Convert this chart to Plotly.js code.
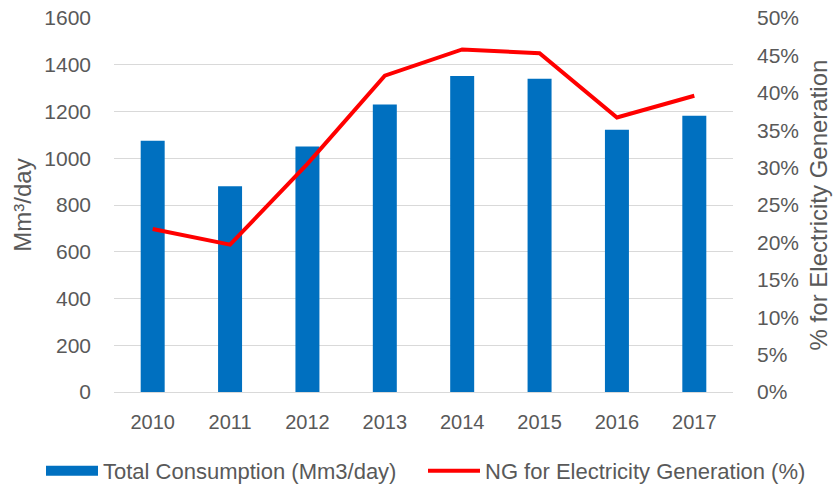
<!DOCTYPE html>
<html>
<head>
<meta charset="utf-8">
<script src="https://cdn.plot.ly/plotly-3.0.1.min.js"></script>
<style>html,body{margin:0;padding:0;background:#fff;}#chart{width:834px;height:486px;}</style>
</head>
<body>
<div id="chart"></div>
<script>
const years = ["2010", "2011", "2012", "2013", "2014", "2015", "2016", "2017"];
const totalConsumption = [1075, 880, 1050, 1230, 1352, 1340, 1122, 1182];
const ngElectricityPct = [0.218, 0.197, 0.305, 0.423, 0.458, 0.453, 0.367, 0.396];
const leftTicks = [0, 200, 400, 600, 800, 1000, 1200, 1400, 1600];
const rightTicks = [0, 0.05, 0.10, 0.15, 0.20, 0.25, 0.30, 0.35, 0.40, 0.45, 0.50];

const FONT = "Liberation Sans, Arial, sans-serif";
const GRAY = "#595959";
const BLUE = "#0070C0";
const RED = "#FF0000";

const traces = [
  {
    type: "bar",
    name: "Total Consumption (Mm3/day)",
    x: years,
    y: totalConsumption,
    width: 0.31,
    marker: {color: BLUE},
    yaxis: "y",
    showlegend: false,
    legendgroup: "tc"
  },
  {
    // legend entry for the bars (wide box like the reference)
    type: "scatter",
    mode: "lines",
    name: "Total Consumption (Mm3/day)",
    x: [null],
    y: [null],
    line: {color: BLUE, width: 12},
    legendgroup: "tc",
    legend: "legend",
    hoverinfo: "skip"
  },
  {
    type: "scatter",
    mode: "lines",
    name: "NG for Electricity Generation (%)",
    x: years,
    y: ngElectricityPct,
    line: {color: RED, width: 4},
    yaxis: "y2",
    legend: "legend2"
  }
];

const legendBase = {
  orientation: "h",
  xref: "container", yref: "container",
  xanchor: "left",
  y: (486 - 471) / 486, yanchor: "middle",
  font: {family: FONT, size: 22, color: GRAY},
  itemwidth: 52,
  bgcolor: "rgba(0,0,0,0)"
};

const layout = {
  width: 834,
  height: 486,
  margin: {l: 114, r: 101, t: 18, b: 94},
  paper_bgcolor: "#fff",
  plot_bgcolor: "#fff",
  font: {family: FONT, size: 20, color: GRAY},
  showlegend: true,
  legend: Object.assign({}, legendBase, {x: 41 / 834}),
  legend2: Object.assign({}, legendBase, {x: 423 / 834}),
  xaxis: {
    type: "category",
    showgrid: false,
    showline: true,
    linecolor: "#d9d9d9",
    linewidth: 1,
    ticks: "",
    tickfont: {family: FONT, size: 20, color: GRAY},
    ticklabelstandoff: 12
  },
  yaxis: {
    range: [0, 1600],
    tickvals: leftTicks,
    ticktext: leftTicks.map(String),
    showgrid: true,
    gridcolor: "#d9d9d9",
    gridwidth: 1,
    zeroline: false,
    showline: false,
    ticks: "",
    tickfont: {family: FONT, size: 21, color: GRAY},
    ticklabelstandoff: 22,
    title: {text: "Mm³/day", font: {family: FONT, size: 24, color: GRAY}, standoff: 5}
  },
  yaxis2: {
    overlaying: "y",
    side: "right",
    range: [0, 0.5],
    tickvals: rightTicks,
    ticktext: rightTicks.map(v => Math.round(v * 100) + "%"),
    showgrid: false,
    zeroline: false,
    showline: false,
    ticks: "",
    tickfont: {family: FONT, size: 21, color: GRAY},
    ticklabelstandoff: 23,
    title: {text: "% for Electricity Generation", font: {family: FONT, size: 24, color: GRAY}, standoff: 12}
  }
};

Plotly.newPlot("chart", traces, layout, {displayModeBar: false, staticPlot: true});
</script>
</body>
</html>
